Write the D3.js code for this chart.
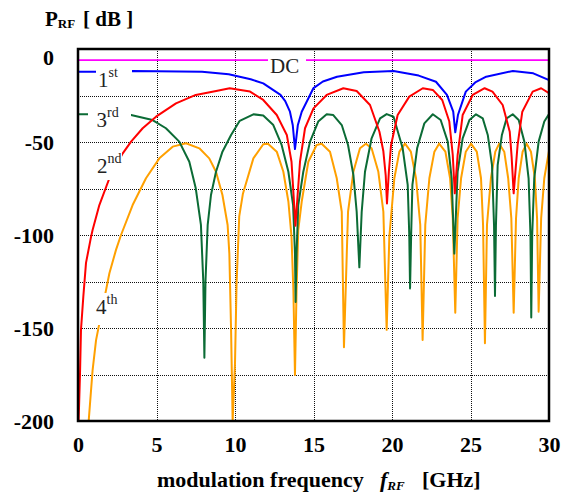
<html>
<head>
<meta charset="utf-8">
<title>RF power of harmonics</title>
<script type="text/javascript" src="https://cdn.jsdelivr.net/npm/d3@7/dist/d3.min.js"></script>
<style>
	body { margin:0px; padding:0px; background:#fff; }
	svg { display:block; }
	text { font-family:"Liberation Serif","Times New Roman",serif; }
</style>
</head>
<body>
<svg id="chart" width="568" height="494"></svg>
<script type="text/javascript">

	// tick values
	var xTicks = [0, 5, 10, 15, 20, 25, 30];
	var yTicks = [0, -50, -100, -150, -200];
	var xGrid = [5, 10, 15, 20, 25];
	var yGrid = [-25, -50, -75, -100, -125, -150, -175];

	// DC level [GHz, dB]
	var dc = [[0, -6], [30, -6]];

	// 1st harmonic
	var harm1 = [[0, -12.2], [1.15, -12.2], [3.44, -11.8], [5.0, -12], [7.9, -12.2], [9.6, -13.6], [10.3, -14.9],
		[11.0, -16.3], [11.8, -18.5], [12.9, -24.7], [13.2, -28], [13.5, -33.7], [13.68, -41], [13.82, -53.8],
		[14.0, -41], [14.25, -33.7], [15.0, -21], [15.6, -17.5], [16.5, -14.9], [18.2, -12.5], [20.1, -11.8],
		[21.7, -14.3], [22.8, -17.6], [23.5, -24.7], [23.9, -33.7], [24.03, -44.8], [24.2, -35.5], [24.7, -22.9],
		[25.3, -18], [26.0, -14.9], [27.7, -11.8], [29.0, -13.1], [30, -16.7]];

	// 2nd harmonic
	var harm2 = [[0.04, -200], [0.13, -174], [0.19, -151], [0.34, -133], [0.51, -115], [0.83, -101], [0.93, -97.3],
		[1.36, -83.9], [2.0, -69.5], [2.85, -56.1], [3.38, -49.8], [4.12, -42.6], [4.97, -36.4], [6.24, -29.2],
		[7.5, -24.7], [8.8, -22.6], [9.66, -21.1], [10.96, -22.9], [11.8, -27.4], [12.66, -35.5], [13.3, -46.2],
		[13.6, -60.6], [13.85, -95], [14.14, -60.6], [14.46, -42.6], [15.0, -31.9], [15.84, -24.7], [16.9, -21.1],
		[17.75, -22.6], [18.6, -30.1], [19.2, -44.5], [19.45, -55], [19.6, -68], [19.68, -83], [19.8, -66],
		[19.94, -51.6], [20.36, -35.5], [21.1, -25.6], [21.96, -21.1], [22.6, -22], [23.2, -27.4], [23.65, -39],
		[23.87, -57], [24.0, -77.6], [24.18, -57], [24.5, -35.5], [25.14, -24.7], [25.9, -21.1], [26.4, -22.9],
		[27.05, -30.1], [27.5, -44.5], [27.62, -58], [27.75, -77.6], [28.0, -51.6], [28.3, -33.7], [28.96, -22.9],
		[29.5, -21.1], [30.0, -23.8]];

	// 3rd harmonic
	var harm3 = [[0, -35.1], [0.62, -35.1], [3.38, -35.5], [4.75, -38.2], [5.6, -42.6], [6.45, -49.8], [7.09, -60.6],
		[7.5, -74.9], [7.83, -94.6], [7.98, -125], [8.05, -166], [8.12, -125], [8.26, -94.6], [8.47, -78.5],
		[8.79, -66], [9.2, -55.2], [9.75, -46.2], [10.3, -38.6], [11.17, -35.1], [11.8, -35.8], [12.44, -40.9],
		[12.97, -51.6], [13.4, -66], [13.7, -83.9], [13.82, -110], [13.86, -136], [13.92, -110], [14.03, -83.9],
		[14.35, -66], [14.78, -49.8], [15.3, -39], [15.84, -35.1], [16.26, -35.5], [16.8, -40.9], [17.2, -51.6],
		[17.54, -67.7], [17.75, -87.5], [17.92, -117.4], [18.07, -87.5], [18.28, -66], [18.7, -48], [19.24, -37.3],
		[19.66, -35], [20.1, -36.4], [20.25, -40.9], [20.68, -53.4], [21.0, -73], [21.1, -100], [21.15, -128.7],
		[21.22, -100], [21.3, -73], [21.6, -53.4], [22.06, -40], [22.6, -35.1], [23.1, -38.2], [23.55, -49.8],
		[23.8, -69.5], [23.97, -110], [24.18, -66], [24.5, -48], [24.93, -38.2], [25.35, -35.1], [25.78, -37.3],
		[26.1, -46.2], [26.37, -62.4], [26.5, -95], [26.56, -132.8], [26.62, -95], [26.73, -62.4], [27.0, -46.2],
		[27.3, -37.3], [27.69, -35.1], [28.07, -38.2], [28.43, -49.8], [28.7, -69.5], [28.82, -100], [28.87, -144.3],
		[28.93, -100], [29.06, -69.5], [29.34, -49.8], [29.7, -39], [30.0, -35]];

	// 4th harmonic
	var harm4 = [[0.68, -200], [0.93, -172.6], [1.15, -156.5], [1.36, -147.5], [2.0, -120.6], [2.42, -108],
		[2.74, -100], [3.48, -83.9], [4.33, -69.5], [5.18, -58.8], [6.03, -52.5], [6.88, -50.7], [7.73, -53.4],
		[8.36, -58.8], [8.79, -66], [9.2, -78.5], [9.53, -94.6], [9.64, -110], [9.75, -151], [9.85, -200],
		[10.0, -169], [10.1, -126], [10.27, -90], [10.5, -78], [11.17, -58.8], [11.8, -51.2], [12.1, -50.9],
		[12.66, -55.2], [13.08, -66], [13.4, -82], [13.6, -101], [13.72, -130], [13.82, -175.3], [13.92, -130],
		[14.03, -97.3], [14.25, -82], [14.67, -60.6], [15.2, -51.6], [15.52, -50.9], [16.05, -55.2], [16.48, -69.5],
		[16.8, -87.5], [16.94, -160.4], [17.2, -87.5], [17.54, -66], [17.96, -53.4], [18.34, -50.9], [18.7, -53.4],
		[19.13, -66], [19.45, -87.5], [19.66, -151], [19.83, -101], [20.15, -69.5], [20.47, -55.2], [20.83, -50.9],
		[21.2, -55.2], [21.53, -69.5], [21.8, -94.6], [21.95, -156.4], [22.12, -94.6], [22.38, -69.5], [22.7, -55.2],
		[23.0, -50.9], [23.4, -55.2], [23.7, -69.5], [23.87, -91], [24.03, -141.8], [24.18, -91], [24.4, -69.5],
		[24.7, -55.2], [25.03, -50.9], [25.4, -55.2], [25.67, -69.5], [25.8, -94.6], [25.92, -158.2], [26.05, -94.6],
		[26.3, -69.5], [26.58, -55.2], [26.83, -50.9], [27.15, -55.2], [27.4, -69.5], [27.6, -91], [27.75, -141.8],
		[27.9, -91], [28.07, -69.5], [28.32, -55.2], [28.58, -50.9], [28.85, -55.2], [29.1, -69.5], [29.24, -91],
		[29.34, -141.2], [29.5, -91], [29.7, -69.5], [30.0, -54.8]];


	var svg = d3.select('#chart');
	var plotL = 78, plotR = 549, plotT = 49, plotB = 421;

	var x = d3.scaleLinear().domain([0, 30]).range([plotL, plotR]);
	var y = d3.scaleLinear().domain([0, -200]).range([plotT, plotB]);

	svg.append('defs').append('clipPath').attr('id', 'plotclip')
		.append('rect').attr('x', plotL).attr('y', plotT).attr('width', plotR-plotL).attr('height', plotB-plotT);

	// dotted grid
	svg.selectAll('line.vgrid').data(xGrid).enter().append('line')
		.attr('class', 'vgrid')
		.attr('x1', function(d) {return Math.round(x(d))+0.5})
		.attr('x2', function(d) {return Math.round(x(d))+0.5})
		.attr('y1', plotT).attr('y2', plotB)
		.attr('stroke', '#111').attr('stroke-width', 1).attr('stroke-dasharray', '1,1');
	svg.selectAll('line.hgrid').data(yGrid).enter().append('line')
		.attr('class', 'hgrid')
		.attr('y1', function(d) {return Math.round(y(d))+0.5})
		.attr('y2', function(d) {return Math.round(y(d))+0.5})
		.attr('x1', plotL).attr('x2', plotR)
		.attr('stroke', '#111').attr('stroke-width', 1).attr('stroke-dasharray', '1,1');

	var line = d3.line()
		.x(function(d) {return x(d[0])})
		.y(function(d) {return y(d[1])});

	var series = [
		{data: harm4, color: '#ffa000', w: 2},
		{data: harm3, color: '#0b6b35', w: 2},
		{data: harm2, color: '#ff0000', w: 2},
		{data: harm1, color: '#0000ff', w: 2},
		{data: dc, color: '#ff00ff', w: 1.6}
	];

	svg.append('g').attr('clip-path', 'url(#plotclip)')
		.selectAll('path').data(series).enter().append('path')
		.attr('d', function(d) {return line(d.data)})
		.attr('fill', 'none')
		.attr('stroke', function(d) {return d.color})
		.attr('stroke-width', function(d) {return d.w})
		.attr('stroke-linejoin', 'round');

	// white patches where the curve labels sit
	var gaps = [
		{x: 268, y: 55, w: 38, h: 10},
		{x: 96, y: 66, w: 36, h: 11},
		{x: 88, y: 109, w: 43, h: 11},
		{x: 104, y: 150, w: 18, h: 30},
		{x: 95, y: 293, w: 22, h: 32}
	];
	svg.selectAll('rect.gap').data(gaps).enter().append('rect')
		.attr('class', 'gap')
		.attr('x', function(d) {return d.x}).attr('y', function(d) {return d.y})
		.attr('width', function(d) {return d.w}).attr('height', function(d) {return d.h})
		.attr('fill', '#fff');

	var labels = [
		{main: 'DC', sup: '', x: 270, y: 73},
		{main: '1', sup: 'st', x: 98, y: 87},
		{main: '3', sup: 'rd', x: 96.5, y: 127},
		{main: '2', sup: 'nd', x: 97, y: 173},
		{main: '4', sup: 'th', x: 96, y: 314}
	];
	var lab = svg.selectAll('text.curvelab').data(labels).enter().append('text')
		.attr('class', 'curvelab')
		.attr('x', function(d) {return d.x}).attr('y', function(d) {return d.y})
		.attr('fill', '#222').style('font-size', '21px');
	lab.append('tspan').text(function(d) {return d.main});
	lab.append('tspan').text(function(d) {return d.sup})
		.attr('dy', -10).style('font-size', '14px');

	// frame
	svg.append('rect')
		.attr('x', plotL).attr('y', plotT).attr('width', plotR-plotL).attr('height', plotB-plotT)
		.attr('fill', 'none').attr('stroke', '#000').attr('stroke-width', 2.5);

	// axes
	var fmt = function(d) {return String(d)};
	var xAxis = svg.append('g').attr('transform', 'translate(0,' + plotB + ')')
		.call(d3.axisBottom(x).tickValues(xTicks).tickFormat(fmt).tickSize(0).tickPadding(15));
	var yAxis = svg.append('g').attr('transform', 'translate(' + plotL + ',0)')
		.call(d3.axisLeft(y).tickValues(yTicks).tickFormat(fmt).tickSize(0).tickPadding(24));
	svg.selectAll('.domain').remove();
	svg.selectAll('.tick text')
		.style('font-family', '"Liberation Serif","Times New Roman",serif')
		.style('font-size', '22px').style('font-weight', 'bold').attr('fill', '#000');
	yAxis.selectAll('.tick').filter(function(d) {return d == 0}).select('text').attr('y', 8);

	// axis titles
	var yt = svg.append('text').attr('x', 45).attr('y', 26)
		.style('font-weight', 'bold').style('font-size', '21px');
	yt.append('tspan').text('P');
	yt.append('tspan').text('RF').attr('dy', 2).style('font-size', '13px');
	yt.append('tspan').text('[ dB ]').attr('x', 83).attr('dy', -2);

	var xt = svg.append('text').attr('x', 157).attr('y', 487)
		.style('font-weight', 'bold').style('font-size', '22px');
	xt.append('tspan').text('modulation frequency');
	xt.append('tspan').text('f').attr('x', 380).style('font-style', 'italic');
	xt.append('tspan').text('RF').attr('dy', 3).style('font-style', 'italic').style('font-size', '13px');
	xt.append('tspan').text('[GHz]').attr('x', 422).attr('dy', -3);

</script>
</body>
</html>
